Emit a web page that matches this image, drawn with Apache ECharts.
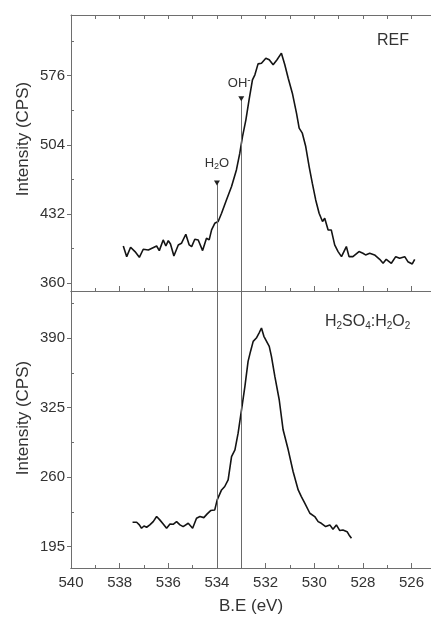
<!DOCTYPE html>
<html>
<head>
<meta charset="utf-8">
<script src="https://cdn.jsdelivr.net/npm/echarts@6/dist/echarts.min.js"></script>
<style>
  html, body { margin: 0; padding: 0; background: #fff; }
  #chart { width: 431px; height: 617px; }
</style>
</head>
<body>
<div id="chart"></div>
<script>
// REF panel (binding energy in eV, intensity in CPS)
var refBE = [537.85, 537.71, 537.55, 537.37, 537.19, 537.03, 536.82, 536.48, 536.37, 536.21,
  536.10, 536.00, 535.91, 535.77, 535.59, 535.46, 535.28, 535.14, 535.04, 534.91,
  534.77, 534.59, 534.43, 534.32, 534.22, 534.09, 533.95, 533.81, 533.61, 533.40,
  533.20, 533.06, 532.95, 532.81, 532.68, 532.54, 532.44, 532.31, 532.17, 531.99,
  531.85, 531.69, 531.53, 531.35, 531.21, 531.07, 530.90, 530.73, 530.62, 530.49,
  530.35, 530.21, 530.08, 529.94, 529.80, 529.66, 529.57, 529.43, 529.30, 529.16,
  529.02, 528.88, 528.68, 528.57, 528.41, 528.16, 528.00, 527.89, 527.72, 527.52,
  527.31, 527.17, 527.04, 526.83, 526.65, 526.49, 526.28, 526.15, 525.97, 525.87];
var refCPS = [398.8, 387.7, 397.5, 393.0, 387.0, 395.4, 394.7, 398.8, 394.0, 405.1,
  398.8, 404.4, 400.9, 388.4, 399.9, 401.6, 411.0, 399.9, 398.2, 405.8,
  405.1, 394.0, 406.8, 405.1, 415.5, 422.4, 424.2, 432.8, 446.7, 460.6,
  477.9, 495.3, 512.6, 530.0, 550.8, 571.6, 576.8, 588.2, 588.9, 594.1,
  592.4, 587.2, 592.4, 599.3, 587.2, 573.3, 557.7, 536.9, 521.3, 516.1,
  502.2, 481.4, 464.1, 446.7, 432.8, 424.2, 427.6, 415.5, 415.5, 399.9,
  393.0, 387.7, 398.2, 387.7, 387.7, 393.0, 391.2, 389.5, 391.2, 389.5,
  385.0, 380.8, 385.0, 380.8, 387.7, 386.0, 387.7, 382.5, 380.1, 385.0];

// H2SO4:H2O2 panel
var acidBE = [537.47, 537.30, 537.19, 537.10, 537.00, 536.89, 536.76, 536.62, 536.48, 536.35,
  536.21, 536.07, 535.93, 535.80, 535.66, 535.52, 535.39, 535.18, 535.00, 534.84,
  534.70, 534.54, 534.40, 534.26, 534.09, 533.99, 533.81, 533.68, 533.54, 533.40,
  533.26, 533.13, 532.99, 532.85, 532.72, 532.62, 532.51, 532.38, 532.27, 532.17,
  532.07, 531.96, 531.85, 531.76, 531.62, 531.44, 531.28, 531.07, 530.87, 530.66,
  530.53, 530.39, 530.18, 529.98, 529.84, 529.71, 529.53, 529.36, 529.23, 529.09,
  528.95, 528.82, 528.65, 528.57, 528.47];
var acidCPS = [217.8, 217.8, 215.3, 212.2, 214.3, 213.1, 215.3, 218.4, 223.1, 220.0,
  216.2, 212.2, 216.2, 215.9, 218.4, 215.3, 213.7, 216.8, 212.2, 221.5,
  223.1, 222.1, 225.6, 228.7, 229.3, 238.7, 248.0, 251.2, 257.4, 279.2,
  285.5, 301.1, 322.9, 344.8, 368.2, 377.5, 386.9, 390.0, 394.7, 399.4,
  391.6, 386.9, 382.2, 372.8, 354.1, 332.3, 304.2, 285.5, 265.2, 248.0,
  241.8, 235.6, 226.2, 223.1, 218.4, 216.8, 213.7, 215.3, 211.2, 215.3,
  210.0, 210.6, 209.0, 205.9, 202.8];

// axis ticks and peak positions
var majorTicks = [526, 528, 530, 532, 534, 536, 538, 540];
var minorTicks = [527, 529, 531, 533, 535, 537, 539];
var allTicks = [526, 527, 528, 529, 530, 531, 532, 533, 534, 535, 536, 537, 538, 539, 540];
var refTicks = [360, 432, 504, 576];
var refMinor = [396, 468, 540, 612];
var acidTicks = [195, 260, 325, 390];
var acidMinor = [227.5, 292.5, 357.5, 422.5];
var peakBE = [534, 533];          // H2O, OH-
var peakTop = [464.4, 551.8];     // marker heights in the REF panel

var axisColor = '#6e6e6e';
var textColor = '#333';
var font = 'Liberation Sans';

function zip(a, b) {
  return a.map(function (v, i) { return [v, b[i]]; });
}

function xAx(grid, pos, ticks, len, opts) {
  var ax = {
    type: 'value', gridIndex: grid, position: pos, inverse: true,
    min: 525.2, max: 540,
    splitLine: { show: false },
    axisLine: { show: true, onZero: false, lineStyle: { color: axisColor, width: 1 } },
    axisTick: { show: true, inside: true, length: len, customValues: ticks,
      lineStyle: { color: axisColor } },
    axisLabel: { show: false }
  };
  return Object.assign(ax, opts || {});
}

function yMain(grid, min, max, ticks, shift) {
  return {
    type: 'value', gridIndex: grid, min: min, max: max, position: 'left',
    name: 'Intensity (CPS)', nameLocation: 'middle', nameGap: 39, nameMoveOverlap: false,
    nameTextStyle: { fontFamily: font, fontSize: 17, color: textColor, padding: [0, 0, 0, shift] },
    splitLine: { show: false },
    axisLine: { show: true, lineStyle: { color: axisColor } },
    axisTick: { show: true, inside: false, length: 4, customValues: ticks, lineStyle: { color: axisColor } },
    axisLabel: { customValues: ticks, margin: 6, fontFamily: font, fontSize: 15, color: textColor }
  };
}

function yMinor(grid, min, max, ticks) {
  return {
    type: 'value', gridIndex: grid, min: min, max: max, position: 'left',
    splitLine: { show: false },
    axisLine: { show: false },
    axisTick: { show: true, inside: true, length: 3, customValues: ticks, lineStyle: { color: axisColor } },
    axisLabel: { show: false }
  };
}

var chart = echarts.init(document.getElementById('chart'));

var option = {
  animation: false,
  backgroundColor: '#fff',
  title: [
    { text: 'REF', left: 377, top: 33, padding: 0,
      textStyle: { fontFamily: font, fontSize: 16, fontWeight: 'normal', color: textColor } },
    { text: 'H{s|2}SO{s|4}:H{s|2}O{s|2}', left: 325, top: 313, padding: 0,
      textStyle: { fontFamily: font, fontSize: 16, fontWeight: 'normal', color: textColor,
        rich: { s: { fontSize: 10, verticalAlign: 'bottom', padding: [8, 0, 0, 0], color: textColor } } } }
  ],
  grid: [
    { left: 71, right: 0, top: 15, height: 276 },
    { left: 71, right: 0, top: 291, height: 277 }
  ],
  xAxis: [
    xAx(0, 'bottom', majorTicks, 5),
    xAx(0, 'bottom', minorTicks, 3),
    xAx(0, 'top', allTicks, 4),
    xAx(1, 'bottom', majorTicks, 5, {
      name: 'B.E (eV)', nameLocation: 'middle', nameGap: 30, nameMoveOverlap: false,
      nameTextStyle: { fontFamily: font, fontSize: 17, color: textColor },
      axisLabel: { show: true, customValues: majorTicks, margin: 7,
        fontFamily: font, fontSize: 15, color: textColor }
    }),
    xAx(1, 'bottom', minorTicks, 3)
  ],
  yAxis: [
    yMain(0, 352, 639, refTicks, 28),
    yMain(1, 175, 434, acidTicks, 23),
    yMinor(0, 352, 639, refMinor),
    yMinor(1, 175, 434, acidMinor)
  ],
  series: [
    {
      name: 'REF', type: 'line', xAxisIndex: 0, yAxisIndex: 0,
      data: zip(refBE, refCPS), showSymbol: false, z: 3,
      lineStyle: { color: '#141414', width: 1.6 },
      markLine: {
        silent: true, symbol: 'none', label: { show: false },
        lineStyle: { color: '#6a6a6a', width: 1, type: 'solid' },
        data: peakBE.map(function (x, i) {
          return [{ coord: [x, 352] }, { coord: [x, peakTop[i]] }];
        })
      },
      markPoint: {
        silent: true, symbol: 'triangle', symbolRotate: 180, symbolSize: [6, 5],
        itemStyle: { color: '#222' },
        label: {
          show: true, position: 'top', color: textColor,
          fontFamily: font, fontSize: 13,
          rich: {
            sub: { fontSize: 9, verticalAlign: 'bottom', padding: [6, 0, 0, 0], color: textColor },
            sup: { fontSize: 10, verticalAlign: 'top', padding: [0, 0, 7, 0], color: textColor }
          }
        },
        data: [
          { coord: [peakBE[0], peakTop[0]], label: { formatter: 'H{sub|2}O', distance: 9 } },
          { coord: [peakBE[1], peakTop[1]], label: { formatter: 'OH{sup|-}', distance: 4, offset: [-2, 0] } }
        ]
      }
    },
    {
      name: 'H2SO4:H2O2', type: 'line', xAxisIndex: 3, yAxisIndex: 1,
      data: zip(acidBE, acidCPS), showSymbol: false, z: 3,
      lineStyle: { color: '#141414', width: 1.6 },
      markLine: {
        silent: true, symbol: 'none', label: { show: false },
        lineStyle: { color: '#6a6a6a', width: 1, type: 'solid' },
        data: peakBE.map(function (x) { return { xAxis: x }; })
      }
    }
  ]
};

chart.setOption(option);
</script>
</body>
</html>
